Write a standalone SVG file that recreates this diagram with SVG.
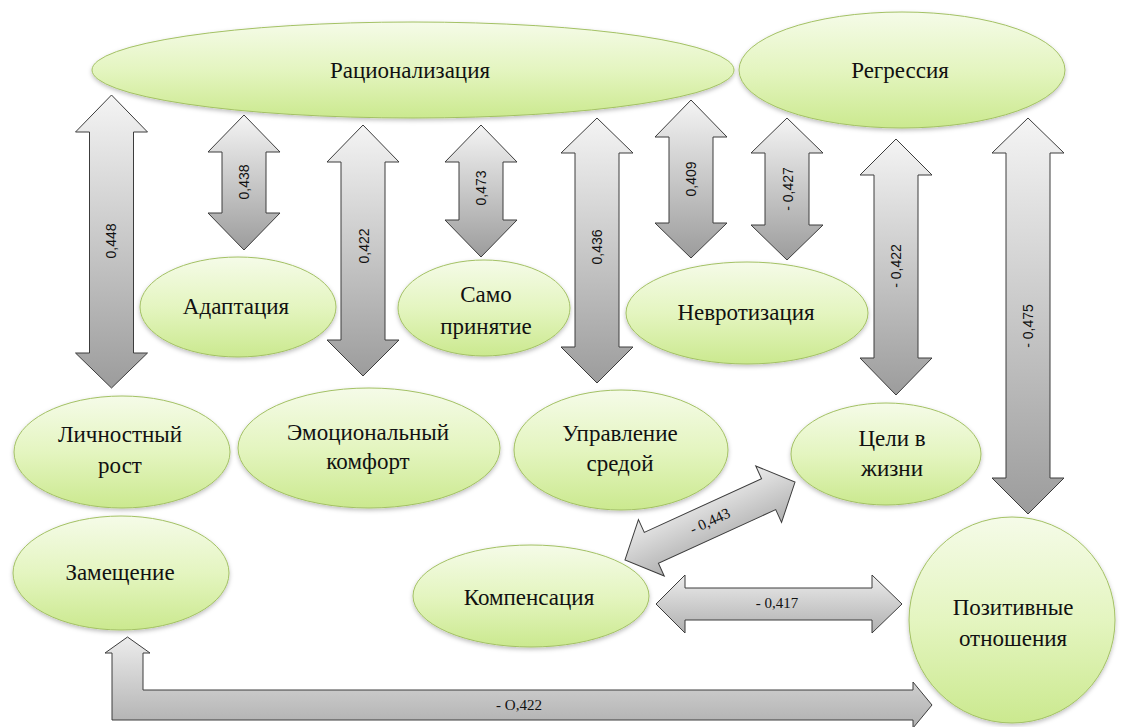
<svg xmlns="http://www.w3.org/2000/svg" width="1123" height="727" viewBox="0 0 1123 727">
<defs>
  <linearGradient id="gEl" x1="0" y1="0" x2="0" y2="1">
    <stop offset="0" stop-color="#f5fbe8"/>
    <stop offset="0.5" stop-color="#e4f5c0"/>
    <stop offset="1" stop-color="#cbe98f"/>
  </linearGradient>
  <linearGradient id="gAr" x1="0" y1="0" x2="0" y2="1">
    <stop offset="0" stop-color="#f4f4f4"/>
    <stop offset="1" stop-color="#9c9c9c"/>
  </linearGradient>
  <linearGradient id="gArH" x1="0" y1="0" x2="0" y2="1">
    <stop offset="0" stop-color="#ececec"/>
    <stop offset="1" stop-color="#b0b0b0"/>
  </linearGradient>
  <filter id="sh" x="-10%" y="-10%" width="120%" height="130%">
    <feDropShadow dx="0" dy="2" stdDeviation="2" flood-color="#000" flood-opacity="0.25"/>
  </filter>
</defs>
<style>
  .node ellipse { fill: url(#gEl); stroke: #a3c164; stroke-width: 1; filter: url(#sh); }
  .node text { font-family: "Liberation Serif", "Times New Roman", Tinos, "DejaVu Serif", "Noto Serif", FreeSerif, serif; font-size: 23px; fill: #111; text-anchor: middle; dominant-baseline: central; }
  .arr path { fill: url(#gAr); stroke: #3c3c3c; stroke-width: 1; }
  .arr path.h { fill: url(#gArH); }
  .vl { font-family: "Liberation Sans", Arial, sans-serif; font-size: 14px; fill: #111; text-anchor: middle; dominant-baseline: central; }
  .hl { font-family: "Liberation Serif", "Times New Roman", Tinos, "DejaVu Serif", serif; font-size: 15px; fill: #111; text-anchor: middle; dominant-baseline: central; }
</style>
<rect width="1123" height="727" fill="#ffffff"/>

<g id="n-rational" class="node"><ellipse cx="413" cy="70" rx="321" ry="48"/><text x="410" y="70">Рационализация</text></g>
<g id="n-regress" class="node"><ellipse cx="902" cy="70" rx="163" ry="58"/><text x="900" y="70">Регрессия</text></g>
<g id="n-adapt" class="node"><ellipse cx="238" cy="307" rx="98" ry="50"/><text x="236" y="306">Адаптация</text></g>
<g id="n-self" class="node"><ellipse cx="484" cy="308" rx="86" ry="48"/><text x="486" y="294">Само</text><text x="486" y="326">принятие</text></g>
<g id="n-neuro" class="node"><ellipse cx="747" cy="313" rx="121" ry="51"/><text x="746" y="312">Невротизация</text></g>
<g id="n-growth" class="node"><ellipse cx="122" cy="452" rx="108" ry="56"/><text x="120" y="434">Личностный</text><text x="120" y="465">рост</text></g>
<g id="n-emo" class="node"><ellipse cx="369" cy="448" rx="131" ry="60"/><text x="368" y="432">Эмоциональный</text><text x="368" y="461">комфорт</text></g>
<g id="n-env" class="node"><ellipse cx="621" cy="450" rx="107" ry="60"/><text x="620" y="433">Управление</text><text x="620" y="463">средой</text></g>
<g id="n-goals" class="node"><ellipse cx="886" cy="454" rx="95" ry="51"/><text x="892" y="438">Цели в</text><text x="892" y="468">жизни</text></g>
<g id="n-subst" class="node"><ellipse cx="121" cy="573" rx="108" ry="57"/><text x="120" y="572">Замещение</text></g>
<g id="n-comp" class="node"><ellipse cx="531" cy="596" rx="118" ry="51"/><text x="529" y="597">Компенсация</text></g>
<g id="n-pos" class="node"><ellipse cx="1012" cy="620" rx="103" ry="103"/><text x="1013" y="607">Позитивные</text><text x="1013" y="638">отношения</text></g>

<g id="connectors" class="arr">
  <path d="M111.5,95 L147.5,132 L133.5,132 L133.5,353 L147.5,353 L111.5,388 L75.5,353 L89.5,353 L89.5,132 L75.5,132 Z"/>
  <text class="vl" transform="translate(111,241) rotate(-90)">0,448</text>

  <path d="M244,115 L280,152 L266,152 L266,213 L280,213 L244,250 L208,213 L222,213 L222,152 L208,152 Z"/>
  <text class="vl" transform="translate(244,182) rotate(-90)">0,438</text>

  <path d="M363,125 L399,162 L385,162 L385,340 L399,340 L363,376 L327,340 L341,340 L341,162 L327,162 Z"/>
  <text class="vl" transform="translate(364,246) rotate(-90)">0,422</text>

  <path d="M481,125 L517,162 L503,162 L503,220 L517,220 L481,257 L445,220 L459,220 L459,162 L445,162 Z"/>
  <text class="vl" transform="translate(481,188) rotate(-90)">0,473</text>

  <path d="M597,118 L633,153 L619,153 L619,347 L633,347 L597,383 L561,347 L575,347 L575,153 L561,153 Z"/>
  <text class="vl" transform="translate(597,247) rotate(-90)">0,436</text>

  <path d="M691,100 L727,137 L713,137 L713,223 L727,223 L691,258 L655,223 L669,223 L669,137 L655,137 Z"/>
  <text class="vl" transform="translate(691,179) rotate(-90)">0,409</text>

  <path d="M787,118 L823,153 L809,153 L809,225 L823,225 L787,260 L751,225 L765,225 L765,153 L751,153 Z"/>
  <text class="vl" transform="translate(788,189) rotate(-90)">- 0,427</text>

  <path d="M896,139 L932,175 L918,175 L918,358 L932,358 L896,395 L860,358 L874,358 L874,175 L860,175 Z"/>
  <text class="vl" transform="translate(896,266) rotate(-90)">- 0,422</text>

  <path d="M1028,118 L1064,153 L1050,153 L1050,478 L1064,478 L1028,514 L992,478 L1006,478 L1006,153 L992,153 Z"/>
  <text class="vl" transform="translate(1028,326) rotate(-90)">- 0,475</text>

  <path class="h" d="M656,604 L685,575 L685,588 L872,588 L872,575 L902,604 L872,633 L872,620 L685,620 L685,633 Z"/>
  <text class="hl" x="777" y="603">- 0,417</text>

  <g transform="translate(710,521) rotate(-24.6)">
    <path class="h" d="M-93.5,0 L-64.5,-31 L-64.5,-17 L64.5,-17 L64.5,-31 L93.5,0 L64.5,31 L64.5,17 L-64.5,17 L-64.5,31 Z"/>
    <text class="hl" x="0" y="0">- 0,443</text>
  </g>

  <path class="h" d="M127.5,637 L150,653 L143,653 L143,690 L913,690 L913,682 L932,705 L913,728 L913,720 L112,720 L112,653 L105,653 Z"/>
  <text class="hl" x="519" y="705">- O,422</text>
</g>
</svg>
